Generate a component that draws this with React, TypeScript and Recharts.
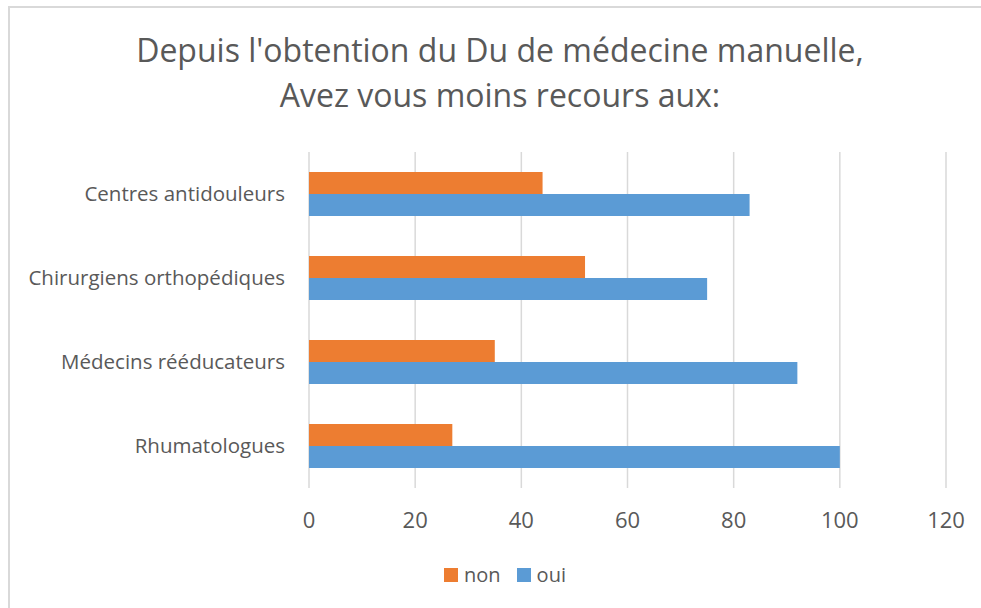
import { BarChart, Bar, XAxis, YAxis, CartesianGrid } from "recharts";

const categories = [
  "Centres antidouleurs",
  "Chirurgiens orthopédiques",
  "Médecins rééducateurs",
  "Rhumatologues",
];
const nonValues = [44, 52, 35, 27];
const ouiValues = [83, 75, 92, 100];
const xTicks = [0, 20, 40, 60, 80, 100, 120];

const titleLines = [
  "Depuis l'obtention du Du de médecine manuelle,",
  "Avez vous moins recours aux:",
];

const NON_COLOR = "#ED7D31";
const OUI_COLOR = "#5B9BD5";
const TEXT_COLOR = "#595959";
const FONT = '"Open Sans", sans-serif';

const data = categories.map((name, i) => ({
  name,
  non: nonValues[i],
  oui: ouiValues[i],
}));

export default function App() {
  return (
    <div
      style={{
        position: "relative",
        width: 981,
        height: 608,
        overflow: "hidden",
        background: "#fff",
        fontFamily: FONT,
      }}
    >
      <style>{"html,body{margin:0;padding:0;overflow:hidden}"}</style>
      {/* frame edges drawn as separate strips so nothing appears on the right */}
      <div
        style={{
          position: "absolute",
          left: 8,
          top: 6,
          width: 973,
          height: 2,
          background: "#d9d9d9",
        }}
      />
      <div
        style={{
          position: "absolute",
          left: 8,
          top: 6,
          width: 2,
          height: 602,
          background: "#d9d9d9",
        }}
      />
      <div
        style={{
          position: "absolute",
          left: 0,
          top: 27,
          width: 1000,
          textAlign: "center",
          color: TEXT_COLOR,
          fontSize: 32,
          lineHeight: "45px",
        }}
      >
        {titleLines.map((t) => (
          <div key={t}>{t}</div>
        ))}
      </div>
      <div style={{ position: "absolute", left: 0, top: 0 }}>
        <BarChart
          width={981}
          height={608}
          data={data}
          layout="vertical"
          margin={{ top: 152, right: 35, bottom: 90, left: 0 }}
          barCategoryGap={20}
          barGap={0}
        >
          <CartesianGrid
            horizontal={false}
            stroke="#d9d9d9"
            strokeWidth={1.5}
          />
          <XAxis
            type="number"
            domain={[0, 120]}
            ticks={xTicks}
            height={30}
            axisLine={false}
            tickLine={false}
            tickSize={0}
            tickMargin={24}
            tick={{ fill: TEXT_COLOR, fontSize: 22, fontFamily: FONT }}
          />
          <YAxis
            type="category"
            dataKey="name"
            width={309}
            axisLine={false}
            tickLine={false}
            tickSize={0}
            tickMargin={24}
            tick={{ fill: TEXT_COLOR, fontSize: 20.5, fontFamily: FONT }}
          />
          <Bar dataKey="non" fill={NON_COLOR} isAnimationActive={false} />
          <Bar dataKey="oui" fill={OUI_COLOR} isAnimationActive={false} />
        </BarChart>
      </div>
      <div
        style={{
          position: "absolute",
          top: 561,
          left: 0,
          width: 981,
          paddingLeft: 29,
          boxSizing: "border-box",
          display: "flex",
          justifyContent: "center",
          gap: 16,
          color: TEXT_COLOR,
          fontSize: 20,
        }}
      >
        {[
          { label: "non", color: NON_COLOR },
          { label: "oui", color: OUI_COLOR },
        ].map((item) => (
          <div key={item.label} style={{ display: "flex", alignItems: "center" }}>
            <span
              style={{
                width: 14,
                height: 14,
                background: item.color,
                marginRight: 6,
                display: "inline-block",
              }}
            />
            {item.label}
          </div>
        ))}
      </div>
    </div>
  );
}
